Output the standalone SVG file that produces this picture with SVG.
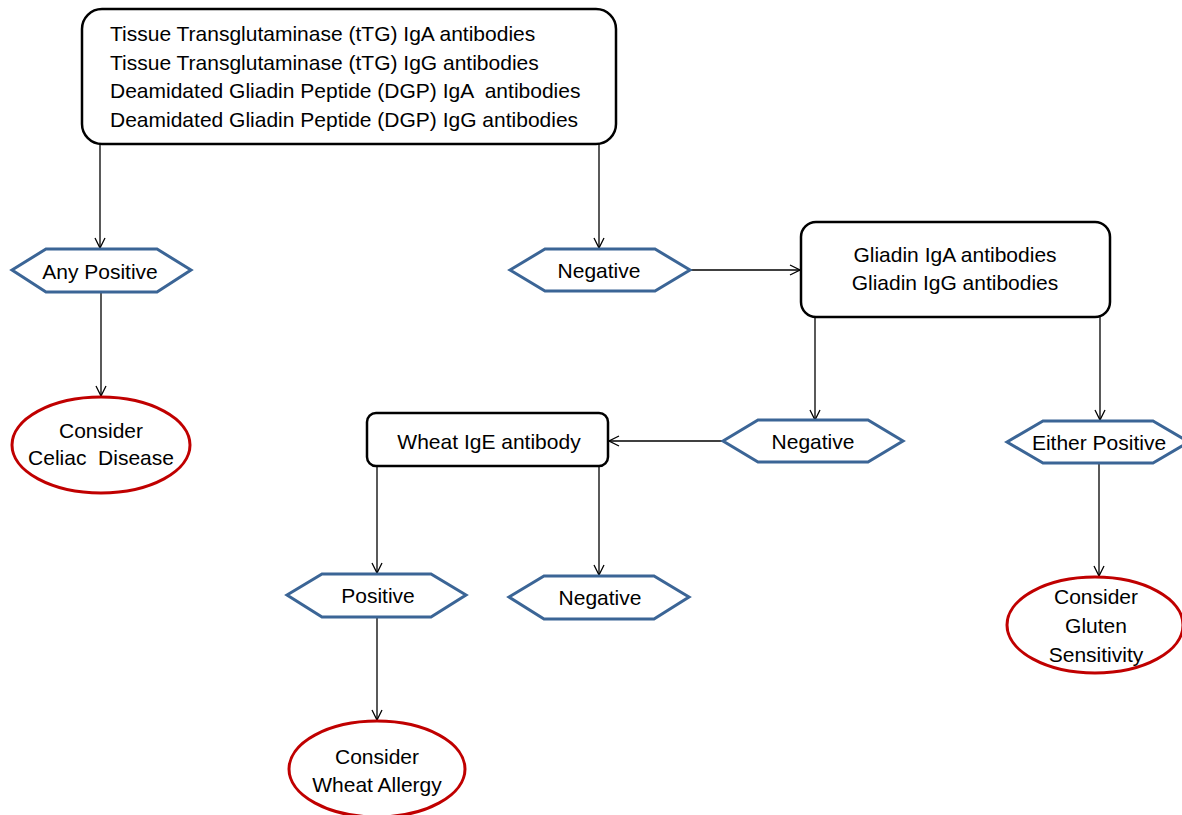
<svg xmlns="http://www.w3.org/2000/svg" width="1182" height="815" viewBox="0 0 1182 815">
<style>
text{font-family:"Liberation Sans",Arial,sans-serif;font-size:21px;fill:#000;text-anchor:middle;dominant-baseline:central}
.box{fill:#fff;stroke:#000;stroke-width:2.5}
.hex{fill:#fff;stroke:#3B6596;stroke-width:3;stroke-linejoin:miter}
.ell{fill:#fff;stroke:#C00000;stroke-width:3}
.con{stroke:#000;stroke-width:1.3;fill:none;marker-end:url(#arr)}
</style>
<defs>
<marker id="arr" viewBox="0 0 12 12" refX="11" refY="6" markerWidth="12" markerHeight="12" markerUnits="userSpaceOnUse" orient="auto">
<path d="M1,1 L11,6 L1,11" fill="none" stroke="#000" stroke-width="1.3"/>
</marker>
</defs>
<rect width="1182" height="815" fill="#fff"/>
<g id="connectors">
<line class="con" x1="100" y1="144" x2="100" y2="248"/>
<line class="con" x1="599" y1="144" x2="599" y2="248"/>
<line class="con" x1="101" y1="292" x2="101" y2="396"/>
<line class="con" x1="690" y1="270" x2="800" y2="270"/>
<line class="con" x1="815" y1="317" x2="815" y2="420"/>
<line class="con" x1="1100" y1="317" x2="1100" y2="420"/>
<line class="con" x1="723" y1="441" x2="609" y2="441"/>
<line class="con" x1="1099" y1="463" x2="1099" y2="576"/>
<line class="con" x1="377" y1="466" x2="377" y2="573"/>
<line class="con" x1="599" y1="466" x2="599" y2="575"/>
<line class="con" x1="377" y1="617" x2="377" y2="720"/>
</g>
<g id="tests-top">
<rect class="box" x="82" y="9" width="534" height="135" rx="20"/>
<text x="110" y="33" style="text-anchor:start">Tissue Transglutaminase (tTG) IgA antibodies</text>
<text x="110" y="62" style="text-anchor:start">Tissue Transglutaminase (tTG) IgG antibodies</text>
<text x="110" y="90" style="text-anchor:start" xml:space="preserve">Deamidated Gliadin Peptide (DGP) IgA  antibodies</text>
<text x="110" y="119" style="text-anchor:start">Deamidated Gliadin Peptide (DGP) IgG antibodies</text>
</g>
<g id="any-positive">
<polygon class="hex" points="12,270 46,249 157,249 191,270 157,292 46,292"/>
<text x="100" y="271">Any Positive</text>
</g>
<g id="celiac">
<ellipse class="ell" cx="101" cy="445" rx="89" ry="48"/>
<text x="101" y="430">Consider</text>
<text x="101" y="457" xml:space="preserve">Celiac  Disease</text>
</g>
<g id="negative-1">
<polygon class="hex" points="510,270 545,249 655,249 690,270 655,291 545,291"/>
<text x="599" y="270">Negative</text>
</g>
<g id="gliadin">
<rect class="box" x="801" y="222" width="309" height="95" rx="15"/>
<text x="955" y="254">Gliadin IgA antibodies</text>
<text x="955" y="282">Gliadin IgG antibodies</text>
</g>
<g id="negative-2">
<polygon class="hex" points="723,441 758,420 868,420 903,441 868,462 758,462"/>
<text x="813" y="441">Negative</text>
</g>
<g id="either-positive">
<polygon class="hex" points="1007,442 1043,421 1153,421 1189,442 1153,463 1043,463"/>
<text x="1099" y="442">Either Positive</text>
</g>
<g id="gluten">
<ellipse class="ell" cx="1095" cy="625" rx="88" ry="48"/>
<text x="1096" y="596">Consider</text>
<text x="1096" y="625">Gluten</text>
<text x="1096" y="654">Sensitivity</text>
</g>
<g id="wheat-ige">
<rect class="box" x="367" y="413" width="241" height="53" rx="9"/>
<text x="489" y="441">Wheat IgE antibody</text>
</g>
<g id="positive">
<polygon class="hex" points="287,595 322,574 431,574 466,595 431,617 322,617"/>
<text x="378" y="595">Positive</text>
</g>
<g id="negative-3">
<polygon class="hex" points="509,597 544,576 654,576 689,597 654,619 544,619"/>
<text x="600" y="597">Negative</text>
</g>
<g id="wheat-allergy">
<ellipse class="ell" cx="377" cy="769" rx="88" ry="48"/>
<text x="377" y="756">Consider</text>
<text x="377" y="784">Wheat Allergy</text>
</g>
</svg>
